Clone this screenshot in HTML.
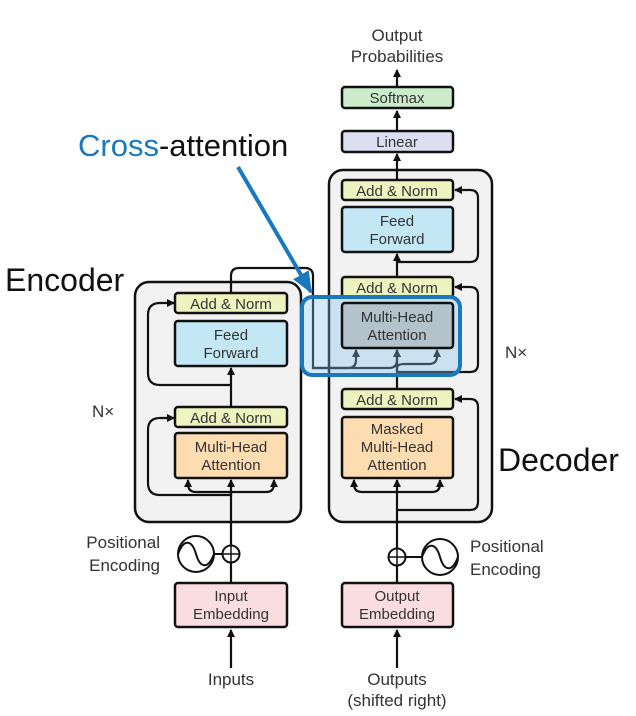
<!DOCTYPE html>
<html><head><meta charset="utf-8"><style>
html,body{margin:0;padding:0;background:#fff;}
svg{display:block;font-family:"Liberation Sans",sans-serif;}
.b{stroke:#111;stroke-width:2.5;}
.l{stroke:#111;stroke-width:2.2;fill:none;}
.t{font-size:15px;fill:#333;text-anchor:middle;}
</style></head><body>
<svg width="636" height="716" viewBox="0 0 636 716" xmlns="http://www.w3.org/2000/svg">
<defs><marker id="a" markerWidth="8" markerHeight="8" refX="7" refY="4" orient="auto" markerUnits="userSpaceOnUse"><path d="M0,0 L8,4 L0,8 z" fill="#111"/></marker>
<marker id="ab" markerWidth="22" markerHeight="22" refX="20" refY="11" orient="auto" markerUnits="userSpaceOnUse"><path d="M0,2 L22,11 L0,20 z" fill="#1a78bf"/></marker></defs>

<rect x="135" y="282" width="166" height="240" rx="14" fill="#f2f2f2" stroke="#111" stroke-width="2.5"/>
<rect x="329" y="170" width="163" height="352" rx="14" fill="#f2f2f2" stroke="#111" stroke-width="2.5"/>

<path class="l" d="M231,668 V630" marker-end="url(#a)"/>
<path class="l" d="M231,583 V563"/>
<path class="l" d="M231,546 V480" marker-end="url(#a)"/>
<path class="l" d="M231,495 H160 Q148,495 148,483 V430 Q148,418 160,418 H174" marker-end="url(#a)"/>
<path class="l" d="M231,496 V490 M231,492 H196 Q188,492 188,484 V480" marker-end="url(#a)"/>
<path class="l" d="M231,492 H266 Q274,492 274,484 V480" marker-end="url(#a)"/>
<path class="l" d="M231,427 V368" marker-end="url(#a)"/>
<path class="l" d="M231,385 H160 Q148,385 148,373 V315 Q148,303 160,303 H174" marker-end="url(#a)"/>
<path class="l" d="M231,293 V276 Q231,268 239,268 H305 Q313,268 313,276 V368 H348 Q356,368 356,360 V350" marker-end="url(#a)"/>

<path class="l" d="M397,668 V630" marker-end="url(#a)"/>
<path class="l" d="M397,583 V566"/>
<path class="l" d="M397,548 V480" marker-end="url(#a)"/>
<path class="l" d="M397,510 H470 Q478,510 478,502 V407 Q478,399 470,399 H455" marker-end="url(#a)"/>
<path class="l" d="M397,492 H362 Q354,492 354,484 V480" marker-end="url(#a)"/>
<path class="l" d="M397,492 H432 Q440,492 440,484 V480" marker-end="url(#a)"/>
<path class="l" d="M397,389 V350" marker-end="url(#a)"/>
<path class="l" d="M397,372 H470 Q478,372 478,364 V295 Q478,287 470,287 H455" marker-end="url(#a)"/>
<path class="l" d="M397,372 V368 Q397,364 405,364 H429 Q437,364 437,356 V350" marker-end="url(#a)"/>
<path class="l" d="M313,368 H389 Q397,368 397,360 V350" marker-end="url(#a)"/>
<path class="l" d="M397,276 V254" marker-end="url(#a)"/>
<path class="l" d="M397,262 H470 Q478,262 478,254 V198 Q478,190 470,190 H455" marker-end="url(#a)"/>
<path class="l" d="M397,180 V154" marker-end="url(#a)"/>
<path class="l" d="M397,131 V111" marker-end="url(#a)"/>
<path class="l" d="M397,87 V70" marker-end="url(#a)"/>

<rect class="b" x="175" y="293" width="112" height="20" rx="3" fill="#eef4c0"/>
<text class="t" x="231" y="309">Add &amp; Norm</text>
<rect class="b" x="175" y="321" width="112" height="45" rx="3" fill="#c4e7f5"/>
<text class="t" x="231" y="340">Feed</text><text class="t" x="231" y="358">Forward</text>
<rect class="b" x="175" y="407" width="112" height="20" rx="3" fill="#eef4c0"/>
<text class="t" x="231" y="423">Add &amp; Norm</text>
<rect class="b" x="175" y="433" width="112" height="45" rx="3" fill="#fcdcb0"/>
<text class="t" x="231" y="452">Multi-Head</text><text class="t" x="231" y="470">Attention</text>
<rect class="b" x="175" y="583" width="112" height="44" rx="3" fill="#fadde1"/>
<text class="t" x="231" y="601">Input</text><text class="t" x="231" y="619">Embedding</text>

<rect class="b" x="342" y="180" width="111" height="20" rx="3" fill="#eef4c0"/>
<text class="t" x="397" y="196">Add &amp; Norm</text>
<rect class="b" x="342" y="207" width="111" height="45" rx="3" fill="#c4e7f5"/>
<text class="t" x="397" y="226">Feed</text><text class="t" x="397" y="244">Forward</text>
<rect class="b" x="342" y="277" width="111" height="20" rx="3" fill="#eef4c0"/>
<text class="t" x="397" y="293">Add &amp; Norm</text>
<rect x="302" y="297" width="158" height="78" rx="10" fill="rgba(130,195,240,0.35)" stroke="none"/>
<rect class="b" x="342" y="303" width="111" height="45" rx="3" fill="#b4c2cc"/>
<text class="t" x="397" y="322">Multi-Head</text><text class="t" x="397" y="340">Attention</text>
<rect class="b" x="342" y="389" width="111" height="20" rx="3" fill="#eef4c0"/>
<text class="t" x="397" y="405">Add &amp; Norm</text>
<rect class="b" x="342" y="417" width="111" height="61" rx="3" fill="#fcdcb0"/>
<text class="t" x="397" y="434">Masked</text><text class="t" x="397" y="452">Multi-Head</text><text class="t" x="397" y="470">Attention</text>
<rect class="b" x="342" y="583" width="111" height="44" rx="3" fill="#fadde1"/>
<text class="t" x="397" y="601">Output</text><text class="t" x="397" y="619">Embedding</text>
<rect class="b" x="342" y="131" width="111" height="21" rx="3" fill="#dcdff2"/>
<text class="t" x="397" y="147">Linear</text>
<rect class="b" x="342" y="87" width="111" height="21" rx="3" fill="#cdeccc"/>
<text class="t" x="397" y="103">Softmax</text>

<rect x="302" y="297" width="158" height="78" rx="10" fill="none" stroke="#1a78bf" stroke-width="4"/>
<path d="M238,167 L311,292" stroke="#1a78bf" stroke-width="4" fill="none" marker-end="url(#ab)"/>

<circle cx="231" cy="554" r="8.5" fill="#fff" stroke="#111" stroke-width="2"/>
<path d="M222.5,554 H239.5 M231,545.5 V562.5" stroke="#111" stroke-width="1.5"/>
<line x1="214" y1="554" x2="222" y2="554" stroke="#111" stroke-width="2"/>
<circle cx="196" cy="554" r="18" fill="#fff" stroke="#111" stroke-width="2"/>
<path d="M178,554 C184,538 192,540 196,554 C200,568 208,570 214,554" stroke="#111" stroke-width="2" fill="none"/>
<circle cx="397" cy="557" r="8.5" fill="#fff" stroke="#111" stroke-width="2"/>
<path d="M388.5,557 H405.5 M397,548.5 V565.5" stroke="#111" stroke-width="1.5"/>
<line x1="406" y1="557" x2="422" y2="557" stroke="#111" stroke-width="2"/>
<circle cx="440" cy="557" r="18" fill="#fff" stroke="#111" stroke-width="2"/>
<path d="M422,557 C428,541 436,543 440,557 C444,571 452,573 458,557" stroke="#111" stroke-width="2" fill="none"/>

<g style="font-size:17px;fill:#333">
<text x="160" y="548" text-anchor="end">Positional</text>
<text x="160" y="571" text-anchor="end">Encoding</text>
<text x="470" y="552">Positional</text>
<text x="470" y="575">Encoding</text>
<text x="231" y="685" text-anchor="middle">Inputs</text>
<text x="397" y="685" text-anchor="middle">Outputs</text>
<text x="397" y="706" text-anchor="middle">(shifted right)</text>
<text x="397" y="41" text-anchor="middle">Output</text>
<text x="397" y="62" text-anchor="middle">Probabilities</text>
<text x="92" y="417">N×</text>
<text x="505" y="358">N×</text>
</g>
<text x="5" y="291" style="font-size:32px;fill:#111">Encoder</text>
<text x="498" y="471" style="font-size:32px;fill:#111">Decoder</text>
<text x="78" y="156" style="font-size:31px;fill:#111"><tspan fill="#1a78bf">Cross</tspan>-attention</text>
</svg>
</body></html>
